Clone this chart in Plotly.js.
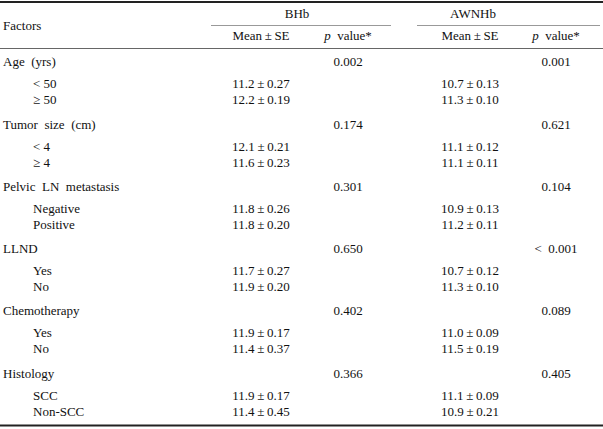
<!DOCTYPE html>
<html>
<head>
<meta charset="utf-8">
<script src="https://cdn.plot.ly/plotly-3.0.1.min.js"></script>
<style>html,body{margin:0;padding:0;background:#fff;}#chart{width:603px;height:429px;}</style>
</head>
<body>
<div id="chart"></div>
<script>
// ---- data ----
const factors = ["Age  (yrs)", "Tumor  size  (cm)", "Pelvic  LN  metastasis", "LLND", "Chemotherapy", "Histology"];
const subgroups = [["< 50", "\u2265 50"], ["< 4", "\u2265 4"], ["Negative", "Positive"], ["Yes", "No"], ["Yes", "No"], ["SCC", "Non-SCC"]];
const bhbMean = [[11.2, 12.2], [12.1, 11.6], [11.8, 11.8], [11.7, 11.9], [11.9, 11.4], [11.9, 11.4]];
const bhbSE = [[0.27, 0.19], [0.21, 0.23], [0.26, 0.20], [0.27, 0.20], [0.17, 0.37], [0.17, 0.45]];
const bhbP = ["0.002", "0.174", "0.301", "0.650", "0.402", "0.366"];
const awnMean = [[10.7, 11.3], [11.1, 11.1], [10.9, 11.2], [10.7, 11.3], [11.0, 11.5], [11.1, 10.9]];
const awnSE = [[0.13, 0.10], [0.12, 0.11], [0.13, 0.11], [0.12, 0.10], [0.09, 0.19], [0.09, 0.21]];
const awnP = ["0.001", "0.621", "0.104", "<  0.001", "0.089", "0.405"];
const groupHeaders = ["BHb", "AWNHb"];
const colHeaders = ["Factors", "Mean\u2009\u00b1\u2009SE", "<i>p</i>  value*"];

// ---- layout constants ----
const FONT = "Liberation Serif, Times New Roman, serif";
const FS = 13;
const TXT = "#111";
const X = {factor: 3, sub: 33, bMean: 261, bP: 348, aMean: 470, aP: 556};
const headerY0 = 63, groupStep = 62.3, sub1 = 22, sub2 = 38;

function fmt(m, s) { return m.toFixed(1) + "\u2009\u00b1\u2009" + s.toFixed(2); }

const traces = [];
function textTrace(xs, ys, texts, pos) {
  traces.push({type: "scatter", mode: "text", x: xs, y: ys, text: texts,
    textposition: pos, textfont: {family: FONT, size: FS, color: TXT},
    hoverinfo: "skip", showlegend: false, cliponaxis: false});
}

const fx = [], fy = [], ft = [];
const sx = [], sy = [], st = [];
const bmx = [], bmy = [], bmt = [];
const amx = [], amy = [], amt = [];
const bpx = [], bpy = [], apx = [], apy = [];
factors.forEach((f, i) => {
  const y0 = headerY0 + i * groupStep;
  fx.push(X.factor); fy.push(y0); ft.push(f);
  bpx.push(X.bP); bpy.push(y0);
  apx.push(X.aP); apy.push(y0);
  subgroups[i].forEach((s, j) => {
    const y = y0 + (j === 0 ? sub1 : sub2);
    sx.push(X.sub); sy.push(y); st.push(s);
    bmx.push(X.bMean); bmy.push(y); bmt.push(fmt(bhbMean[i][j], bhbSE[i][j]));
    amx.push(X.aMean); amy.push(y); amt.push(fmt(awnMean[i][j], awnSE[i][j]));
  });
});
textTrace(fx, fy, ft, "middle right");
textTrace(sx, sy, st, "middle right");
textTrace(bmx, bmy, bmt, "middle center");
textTrace(amx, amy, amt, "middle center");
textTrace(bpx, bpy, bhbP, "middle center");
textTrace(apx, apy, awnP, "middle center");

// headers
textTrace([X.factor], [27], [colHeaders[0]], "middle right");
textTrace([297, 473], [15, 15], groupHeaders, "middle center");
textTrace([X.bMean, X.aMean], [37, 37], [colHeaders[1], colHeaders[1]], "middle center");
textTrace([X.bP, X.aP], [37, 37], [colHeaders[2], colHeaders[2]], "middle center");

// rules
function rule(x0, x1, y, w, c) {
  traces.push({type: "scatter", mode: "lines", x: [x0, x1], y: [y, y],
    line: {color: c, width: w}, hoverinfo: "skip", showlegend: false, cliponaxis: false});
}
rule(0, 603, 2, 2.2, "#222");
rule(211, 391, 25.5, 1.2, "#999");
rule(417, 600, 25.5, 1.2, "#999");
rule(0, 603, 48.5, 1.2, "#666");
rule(0, 603, 425.5, 2.2, "#222");

const layout = {
  width: 603, height: 429,
  margin: {l: 0, r: 0, t: 0, b: 0},
  paper_bgcolor: "#fff", plot_bgcolor: "#fff",
  xaxis: {range: [0, 603], visible: false, fixedrange: true},
  yaxis: {range: [429, 0], visible: false, fixedrange: true},
  showlegend: false
};
Plotly.newPlot("chart", traces, layout, {staticPlot: true});
</script>
</body>
</html>
